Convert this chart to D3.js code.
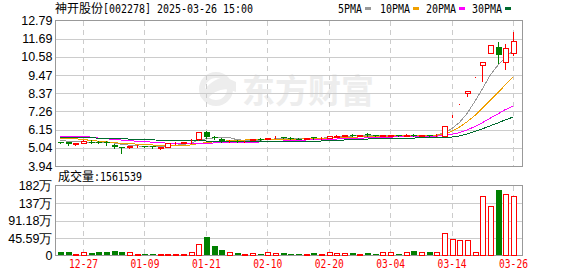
<!DOCTYPE html>
<html>
<head>
<meta charset="utf-8">
<script src="https://cdn.jsdelivr.net/npm/d3@7"></script>
<style>
  body { margin: 0; background: #fff; }
  svg { display: block; }
</style>
</head>
<body>
<svg id="chart"></svg>
<script>
// trading days shown (2024-12-24 .. 2025-03-26)
const dates = ["12-24","12-25","12-26","12-27","12-30","12-31","01-02","01-03","01-06","01-07",
  "01-08","01-09","01-10","01-13","01-14","01-15","01-16","01-17","01-20","01-21",
  "01-22","01-23","01-24","01-27","02-05","02-06","02-07","02-10","02-11","02-12",
  "02-13","02-14","02-17","02-18","02-19","02-20","02-21","02-24","02-25","02-26",
  "02-27","02-28","03-03","03-04","03-05","03-06","03-07","03-10","03-11","03-12",
  "03-13","03-14","03-17","03-18","03-19","03-20","03-21","03-24","03-25","03-26"];
const dateTicks = ["12-27","01-09","01-21","02-10","02-20","03-04","03-14","03-26"];

const openP = [5.40,5.38,5.29,5.33,5.43,5.42,5.37,5.24,5.09,5.08, 5.19,5.16,5.16,5.06,5.12,5.31,5.36,5.40,5.57,6.02,
  5.70,5.61,5.46,5.49,5.44,5.53,5.58,5.58,5.65,5.71, 5.66,5.61,5.58,5.70,5.63,5.67,5.72,5.76,5.82,5.79,
  5.86,5.80,5.76,5.78,5.84,5.79,5.82,5.78,5.83,5.80, 5.78,7.02,7.72,8.38,9.34,10.06,10.82,11.19,10.27,10.82];
const highP = [5.43,5.40,5.31,5.55,5.52,5.44,5.46,5.25,5.10,5.18, 5.24,5.18,5.17,5.10,5.33,5.37,5.43,5.57,6.02,6.08,
  5.76,5.63,5.55,5.50,5.49,5.60,5.64,5.66,5.74,5.72, 5.68,5.64,5.67,5.72,5.72,5.79,5.82,5.84,5.86,5.85,
  5.96,5.85,5.82,5.84,5.85,5.86,5.87,5.85,5.85,5.87, 6.38,7.02,7.72,8.49,9.34,10.27,11.30,11.51,11.39,12.08];
const lowP = [5.35,5.24,5.22,5.31,5.36,5.34,5.20,5.06,4.75,5.05, 5.12,5.12,5.06,4.96,5.10,5.29,5.34,5.33,5.55,5.65,
  5.58,5.43,5.42,5.40,5.41,5.50,5.50,5.56,5.62,5.64, 5.60,5.57,5.56,5.60,5.58,5.66,5.70,5.74,5.75,5.76,
  5.76,5.74,5.74,5.76,5.77,5.75,5.76,5.77,5.79,5.79, 5.74,6.90,7.72,8.17,9.34,9.09,10.80,10.21,9.84,10.67];
const closeP = [5.39,5.26,5.31,5.48,5.41,5.36,5.36,5.08,5.08,5.16, 5.19,5.14,5.08,5.08,5.33,5.36,5.42,5.43,6.02,5.73,
  5.67,5.45,5.49,5.43,5.47,5.58,5.56,5.65,5.67,5.66, 5.62,5.60,5.65,5.62,5.66,5.77,5.76,5.82,5.80,5.81,
  5.82,5.78,5.80,5.82,5.79,5.81,5.80,5.83,5.81,5.85, 6.38,7.02,7.72,8.49,9.34,10.27,11.30,10.67,11.12,11.57];

// volume in 万 (10k)
const volume = [8,8,5,8,6,9,9,11,8,8, 5,3,5,5,5,5,5,8,30,48, 25,14,8,6,5,6,5,8,7,6,
  5,4,5,6,5,8,7,7,6,5, 7,5,8,10,5,8,11,10,9,8, 58,44,40,40,8,156,130,170,161,156.15];

const ma5 = [5.50,5.45,5.40,5.40,5.37,5.36,5.38,5.34,5.26,5.21, 5.17,5.13,5.13,5.13,5.16,5.20,5.25,5.32,5.51,5.59,
  5.65,5.66,5.67,5.55,5.50,5.48,5.51,5.54,5.59,5.62, 5.63,5.64,5.64,5.63,5.63,5.66,5.69,5.73,5.76,5.79,
  5.80,5.81,5.80,5.81,5.80,5.80,5.80,5.81,5.81,5.82, 5.95,6.20,6.58,7.12,7.85,8.62,9.45,10.05,10.55,10.95];
const ma10 = [5.62,5.63,5.60,5.55,5.50,5.45,5.41,5.36,5.32,5.30, 5.27,5.25,5.22,5.19,5.18,5.18,5.19,5.22,5.30,5.36,
  5.41,5.44,5.47,5.50,5.52,5.54,5.56,5.58,5.57,5.56, 5.56,5.57,5.59,5.59,5.61,5.63,5.65,5.66,5.68,5.71,
  5.72,5.73,5.75,5.76,5.78,5.79,5.80,5.81,5.81,5.81, 5.86,6.05,6.30,6.62,7.00,7.45,7.93,8.38,8.88,9.36];
const ma20 = [5.76,5.76,5.76,5.75,5.70,5.64,5.60,5.56,5.52,5.48, 5.45,5.42,5.39,5.36,5.33,5.30,5.28,5.28,5.30,5.32,
  5.34,5.35,5.36,5.37,5.38,5.39,5.40,5.42,5.44,5.46, 5.48,5.50,5.52,5.53,5.55,5.56,5.58,5.60,5.62,5.63,
  5.65,5.66,5.68,5.70,5.71,5.72,5.73,5.74,5.75,5.76, 5.78,5.86,5.97,6.13,6.33,6.57,6.84,7.10,7.37,7.58];
const ma30 = [5.68,5.67,5.66,5.66,5.65,5.64,5.63,5.61,5.59,5.58, 5.57,5.55,5.53,5.51,5.50,5.49,5.48,5.47,5.47,5.46,
  5.46,5.45,5.45,5.44,5.44,5.44,5.44,5.44,5.43,5.43, 5.43,5.43,5.44,5.45,5.46,5.48,5.50,5.52,5.54,5.56,
  5.58,5.60,5.61,5.62,5.63,5.64,5.64,5.65,5.66,5.66, 5.67,5.70,5.77,5.89,6.03,6.20,6.38,6.55,6.75,6.91];

const priceTicks = [3.94,5.04,6.15,7.26,8.37,9.47,10.58,11.69,12.79];
const volTicks = [0,45.59,91.18,136.77,182.36];
const volTickLabels = ["0","45.59万","91.18万","137万","182万"];

const maNames = ["5PMA","10PMA","20PMA","30PMA"];
const maColors = ["#999999","#f0a000","#ff00ff","#006a2e"];
const lastVolume = "1561539";

const width = 578, height = 276;
const plotL = 55.5, plotR = 522.5;
const red = "#ff0000", green = "#008000";

const svg = d3.select("#chart").attr("width", width).attr("height", height);

const x = d3.scalePoint().domain(dates).range([60, 513]);
const y = d3.scaleLinear().domain([3.94, 12.79]).range([166, 20.5]);
const yv = d3.scaleLinear().domain([0, 182.36]).range([255.5, 185.5]);
const px = d => Math.round(x(d)) + 0.5;

// watermark
const wm = svg.append("g").attr("fill", "#ededed");
wm.append("circle").attr("cx", 216).attr("cy", 89).attr("r", 14)
  .attr("fill", "none").attr("stroke", "#ededed").attr("stroke-width", 6);
wm.append("path").attr("d", "M200,96 Q216,70 236,82 L236,92 Q220,84 206,100 Z");
wm.append("text").attr("x", 242).attr("y", 103)
  .style("font-family", "'Noto Sans CJK SC'").style("font-size", "33px").style("font-weight", "bold")
  .text("东方财富");

// grid - price panel
const gridP = svg.append("g").attr("shape-rendering", "crispEdges");
gridP.selectAll("line.h").data(priceTicks.slice(1, -1)).enter().append("line")
  .attr("x1", plotL).attr("x2", plotR)
  .attr("y1", d => Math.round(y(d)) + 0.5).attr("y2", d => Math.round(y(d)) + 0.5)
  .attr("stroke", "#cccccc");
gridP.selectAll("line.v").data(dateTicks).enter().append("line")
  .attr("x1", px).attr("x2", px).attr("y1", 21).attr("y2", 166)
  .attr("stroke", "#cccccc").attr("stroke-dasharray", "5,4");

// grid - volume panel
const gridV = svg.append("g").attr("shape-rendering", "crispEdges");
gridV.selectAll("line.h").data(volTicks.slice(1, -1)).enter().append("line")
  .attr("x1", plotL).attr("x2", plotR)
  .attr("y1", d => Math.round(yv(d)) + 0.5).attr("y2", d => Math.round(yv(d)) + 0.5)
  .attr("stroke", "#cccccc");
gridV.selectAll("line.v").data(dateTicks).enter().append("line")
  .attr("x1", px).attr("x2", px).attr("y1", 186).attr("y2", 255)
  .attr("stroke", "#cccccc").attr("stroke-dasharray", "5,4");

// frames
svg.append("rect").attr("x", plotL).attr("y", 20.5).attr("width", plotR - plotL).attr("height", 145.5)
  .attr("fill", "none").attr("stroke", "#999999").attr("shape-rendering", "crispEdges");
svg.append("rect").attr("x", plotL).attr("y", 185.5).attr("width", plotR - plotL).attr("height", 70)
  .attr("fill", "none").attr("stroke", "#999999").attr("shape-rendering", "crispEdges");

// moving averages
const mas = [ma5, ma10, ma20, ma30];
mas.forEach((arr, k) => {
  const line = d3.line().x((v, i) => x(dates[i])).y(v => y(v));
  svg.append("path").datum(arr)
    .attr("d", line)
    .attr("fill", "none").attr("stroke", maColors[k]).attr("stroke-width", 1)
    .attr("shape-rendering", "crispEdges");
});

// candles
const candles = dates.map((d, i) => ({d, o: openP[i], h: highP[i], l: lowP[i], c: closeP[i], v: volume[i]}));
const up = c => c.c >= c.o;
const cg = svg.append("g").attr("shape-rendering", "crispEdges");
cg.selectAll("line.wick").data(candles).enter().append("line")
  .attr("x1", c => px(c.d)).attr("x2", c => px(c.d))
  .attr("y1", c => Math.round(y(c.h))).attr("y2", c => Math.round(y(c.l)) + 1)
  .attr("stroke", c => up(c) ? red : green);
cg.selectAll("rect.body").data(candles).enter().append("rect")
  .attr("x", c => Math.round(x(c.d)) - 2 + (up(c) ? 0.5 : -0.5))
  .attr("y", c => Math.round(y(Math.max(c.o, c.c))) + (up(c) ? 0.5 : 0))
  .attr("width", c => up(c) ? 5 : 6)
  .attr("height", c => Math.max(up(c) ? 0 : 1, Math.round(y(Math.min(c.o, c.c))) - Math.round(y(Math.max(c.o, c.c)))))
  .attr("fill", c => up(c) ? "#ffffff" : green)
  .attr("stroke", c => up(c) ? red : "none");

// volume bars
const vg = svg.append("g").attr("shape-rendering", "crispEdges");
vg.selectAll("rect").data(candles).enter().append("rect")
  .attr("x", c => Math.round(x(c.d)) - 2 + (up(c) ? 0.5 : -0.5))
  .attr("y", c => Math.round(yv(c.v)) + (up(c) ? 0.5 : 0))
  .attr("width", c => up(c) ? 5 : 6)
  .attr("height", c => 255 - Math.round(yv(c.v)))
  .attr("fill", c => up(c) ? "#ffffff" : green)
  .attr("stroke", c => up(c) ? red : "none");

// axes labels
const axisFont = "'Liberation Sans', Arial, sans-serif";
const yAxis = svg.append("g").attr("transform", `translate(${plotL},0)`)
  .call(d3.axisLeft(y).tickValues(priceTicks).tickFormat(d3.format(".2f")).tickSize(0).tickPadding(3));
yAxis.select(".domain").remove();
yAxis.selectAll("text").style("font-family", axisFont).style("font-size", "12.5px").attr("fill", "#000");

const vAxis = svg.append("g").attr("transform", `translate(${plotL},0)`)
  .call(d3.axisLeft(yv).tickValues(volTicks).tickFormat((d, i) => volTickLabels[i]).tickSize(0).tickPadding(3));
vAxis.select(".domain").remove();
vAxis.selectAll("text").style("font-family", axisFont).style("font-size", "12.5px").attr("fill", "#000");

const mono = "'DejaVu Sans Mono', monospace";
const cjk = "'Noto Sans CJK SC', sans-serif";

const xAxis = svg.append("g").attr("transform", "translate(0,258)")
  .call(d3.axisBottom(x).tickValues(dateTicks).tickSize(0).tickPadding(2));
xAxis.select(".domain").remove();
xAxis.selectAll("text").style("font-family", mono).style("font-size", "11.5px")
  .attr("textLength", 29).attr("lengthAdjust", "spacingAndGlyphs").attr("fill", red);

// title
const title = svg.append("text").attr("x", 55).attr("y", 13).attr("fill", "#000");
title.append("tspan").style("font-family", cjk).style("font-size", "12px").text("神开股份");
title.append("tspan").style("font-family", mono).style("font-size", "11.5px")
  .attr("textLength", 150).attr("lengthAdjust", "spacingAndGlyphs")
  .text("[002278] 2025-03-26 15:00");

// legend
const legX = [338, 380, 426, 472];
const legend = svg.append("g");
maNames.forEach((n, k) => {
  legend.append("text").attr("x", legX[k]).attr("y", 13)
    .style("font-family", mono).style("font-size", "11.5px")
    .attr("textLength", n.length * 6).attr("lengthAdjust", "spacingAndGlyphs")
    .attr("fill", "#000").text(n);
  legend.append("rect").attr("x", legX[k] + n.length * 6 + 3).attr("y", 7).attr("width", 6).attr("height", 3)
    .attr("fill", maColors[k]);
});

// volume label
const vl = svg.append("text").attr("x", 58).attr("y", 181).attr("fill", "#000");
vl.append("tspan").style("font-family", cjk).style("font-size", "12px").text("成交量");
vl.append("tspan").style("font-family", mono).style("font-size", "11.5px")
  .attr("textLength", 48).attr("lengthAdjust", "spacingAndGlyphs")
  .text(":" + lastVolume);
</script>
</body>
</html>
